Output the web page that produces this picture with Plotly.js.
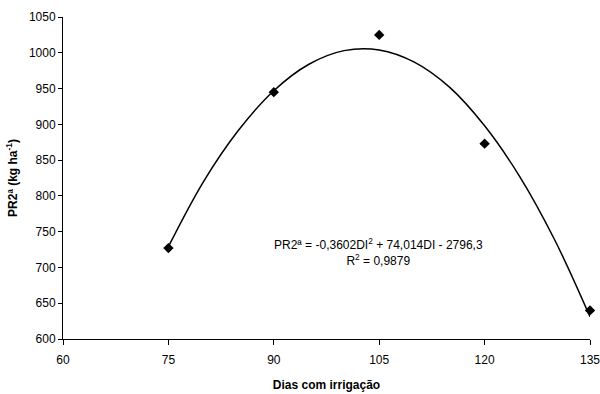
<!DOCTYPE html>
<html>
<head>
<meta charset="utf-8">
<script src="https://cdn.plot.ly/plotly-3.0.1.min.js"></script>
<style>html,body{margin:0;padding:0;background:#fff;}#chart{width:600px;height:394px;}</style>
</head>
<body>
<div id="chart"></div>
<script>
// Observed data
var days = [75, 90, 105, 120, 135];
var yieldValues = [727, 945, 1025, 873, 640];

// Trendline
var curveDays = [75, 80, 85, 90, 95, 100, 105, 110, 115, 120, 125, 130, 135];
var curveValues = [729, 820, 892, 947, 984, 1003, 1004, 987, 952, 898, 827, 738, 631];

var xTicks = [60, 75, 90, 105, 120, 135];
var yTicks = [600, 650, 700, 750, 800, 850, 900, 950, 1000, 1050];

var equationText = "PR2ª = -0,3602DI<sup>2</sup> + 74,014DI - 2796,3<br>R<sup>2</sup> = 0,9879";

var traces = [
  {
    x: curveDays, y: curveValues, mode: "lines", type: "scatter",
    line: {color: "#000", width: 1.5, shape: "spline"},
    hoverinfo: "skip", showlegend: false, cliponaxis: false
  },
  {
    x: days, y: yieldValues, mode: "markers", type: "scatter",
    marker: {symbol: "diamond", size: 8, color: "#000"},
    showlegend: false, cliponaxis: false
  }
];

var font = "Liberation Sans, Arial, sans-serif";
var layout = {
  width: 600, height: 394,
  margin: {l: 63, r: 10, t: 17, b: 55},
  paper_bgcolor: "#fff", plot_bgcolor: "#fff",
  showlegend: false,
  font: {family: font, size: 12, color: "#000"},
  xaxis: {
    range: [60, 135], tickvals: xTicks, ticktext: xTicks.map(String),
    showgrid: false, zeroline: false, showline: true, linecolor: "#000", linewidth: 1,
    ticks: "outside", ticklen: 5, tickcolor: "#000", tickwidth: 1,
    ticklabelstandoff: 5, ticklabeloverflow: "allow",
    tickfont: {family: font, size: 12, color: "#000"},
    title: {text: "<b>Dias com irrigação</b>", font: {family: font, size: 12, color: "#000"}, standoff: 14}
  },
  yaxis: {
    range: [600, 1050], tickvals: yTicks, ticktext: yTicks.map(String),
    showgrid: false, zeroline: false, showline: true, linecolor: "#000", linewidth: 1,
    ticks: "outside", ticklen: 4, tickcolor: "#000", tickwidth: 1,
    ticklabeloverflow: "allow",
    tickfont: {family: font, size: 12, color: "#000"},
    title: {text: "<b>PR2ª (kg ha<sup>-1</sup>)</b>", font: {family: font, size: 12, color: "#000"}, standoff: 8}
  },
  annotations: [{
    x: 0.598, y: 0.27, xref: "paper", yref: "paper",
    text: equationText, showarrow: false, align: "center",
    xanchor: "center", yanchor: "middle",
    font: {family: font, size: 12, color: "#000"}
  }]
};

Plotly.newPlot("chart", traces, layout, {displayModeBar: false, staticPlot: true});
</script>
</body>
</html>
